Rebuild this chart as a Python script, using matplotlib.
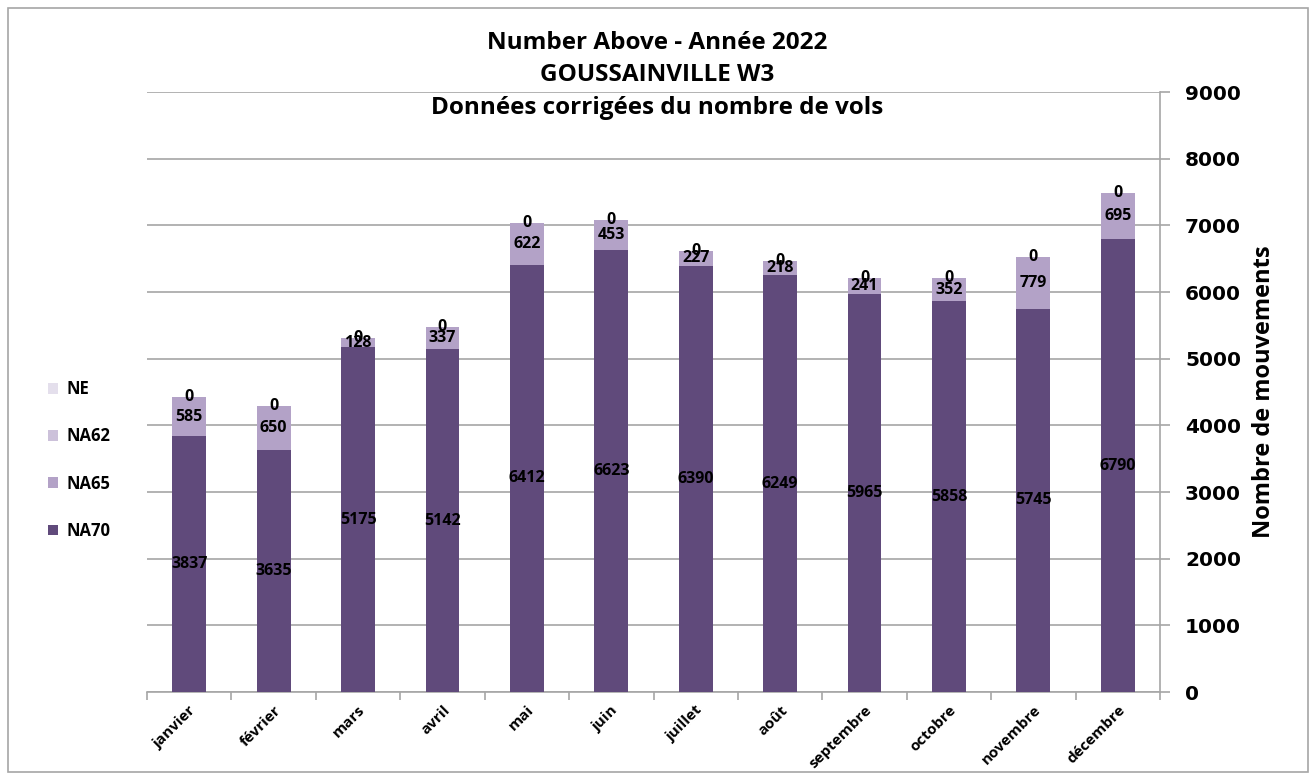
import matplotlib
matplotlib.use("Agg")
from matplotlib import pyplot as plt
from matplotlib.patches import Rectangle

# données
mois = ["janvier", "février", "mars", "avril", "mai", "juin", "juillet",
        "août", "septembre", "octobre", "novembre", "décembre"]
na70 = [3837, 3635, 5175, 5142, 6412, 6623, 6390, 6249, 5965, 5858, 5745, 6790]
na65 = [585, 650, 128, 337, 622, 453, 227, 218, 241, 352, 779, 695]
na62 = [0, 0, 0, 0, 0, 0, 0, 0, 0, 0, 0, 0]
ne = [0, 0, 0, 0, 0, 0, 0, 0, 0, 0, 0, 0]

c70, c65, c62, cne = "#604a7b", "#b3a2c7", "#ccc1da", "#e4dfec"
gris = "#a6a6a6"
police = ["Open Sans", "DejaVu Sans"]

plt.rcParams['font.family'] = police
fig = plt.figure(figsize=(13.14, 7.74), dpi=100)
ax = fig.add_axes([147/1314, 1-692/774, (1160-147)/1314, 600/774])

x = list(range(len(mois)))
bas65 = [a for a in na70]
bas62 = [a+b for a, b in zip(na70, na65)]
basne = [a+b+c for a, b, c in zip(na70, na65, na62)]
b70 = ax.bar(x, na70, width=0.4, color=c70, label="NA70", zorder=3)
b65 = ax.bar(x, na65, bottom=bas65, width=0.4, color=c65, label="NA65", zorder=3)
b62 = ax.bar(x, na62, bottom=bas62, width=0.4, color=c62, label="NA62", zorder=3)
bne = ax.bar(x, ne, bottom=basne, width=0.4, color=cne, label="NE", zorder=3)

for cont in (b70, b65, b62):
    ax.bar_label(cont, label_type="center", fontsize=11.5, fontweight="bold", color="black", zorder=5)

ax.set_xlim(-0.5, 11.5)
ax.set_ylim(0, 9000)
ax.set_yticks(range(0, 9001, 1000))
ax.yaxis.tick_right()
ax.yaxis.set_label_position("right")
ax.grid(axis="y", color=gris, linewidth=1.2, zorder=0)
for s in ["top", "left"]:
    ax.spines[s].set_visible(False)
ax.spines["right"].set_color(gris)
ax.spines["bottom"].set_color(gris)
ax.spines["right"].set_linewidth(1.2)
ax.spines["bottom"].set_linewidth(1.2)
ax.tick_params(axis="y", length=7, color=gris, width=1.2, pad=11)
for t in ax.get_yticklabels():
    t.set_family("DejaVu Sans")
    t.set_fontweight("bold")
    t.set_fontsize(14.5)

ax.set_xticks(x)
ax.set_xticklabels(mois, rotation=45, ha="right", rotation_mode="anchor",
                   fontsize=11, fontweight="bold")
ax.set_xticks([i - 0.5 for i in range(13)], minor=True)
ax.tick_params(axis="x", which="major", length=0, pad=8)
ax.tick_params(axis="x", which="minor", length=6, color=gris, width=1.2)

ax.set_ylabel("Nombre de mouvements", fontsize=17, fontweight="bold", labelpad=8)

# légende à gauche
h = [bne, b62, b65, b70]
fig.legend(h, [b.get_label() for b in h], loc="center left",
           bbox_to_anchor=(33/1314, 1-460/774), frameon=False,
           prop={"weight": "bold", "size": 12}, handlelength=0.6, handleheight=0.6,
           handletextpad=0.5, labelspacing=1.75)

fig.text(0.5, 1-43/774, "Number Above - Année 2022", ha="center", va="center", fontsize=17.5, fontweight="bold")
fig.text(0.5, 1-75/774, "GOUSSAINVILLE W3", ha="center", va="center", fontsize=17.5, fontweight="bold")
fig.text(0.5, 1-108/774, "Données corrigées du nombre de vols", ha="center", va="center", fontsize=17.5, fontweight="bold")

fig.patches.append(Rectangle((8/1314, 2/774), 1300/1314, 764/774, transform=fig.transFigure,
                             fill=False, edgecolor=gris, linewidth=1.2))

plt.savefig("out.png", dpi=100)
